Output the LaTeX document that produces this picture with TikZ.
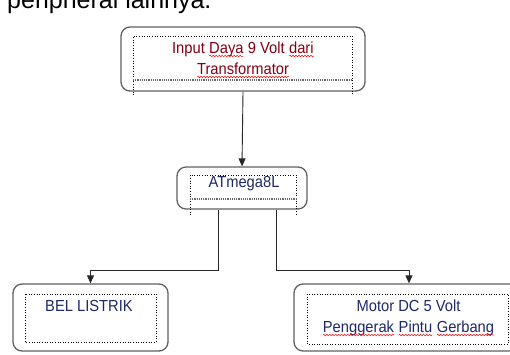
\documentclass[tikz,border=0pt]{standalone}
\usepackage{fontspec}
\setmainfont{Liberation Sans}
\newfontfamily\sempit[FakeStretch=0.92]{Liberation Sans}
\usetikzlibrary{arrows.meta,decorations.pathmorphing}

\definecolor{boxgray}{RGB}{95,95,95}
\definecolor{txtred}{RGB}{128,0,20}
\definecolor{txtblue}{RGB}{30,40,100}

% red wavy spell-check underline under one word
\newcommand{\salah}[1]{\tikz[baseline=(w.base)]{%
  \node[inner sep=0pt, outer sep=0pt] (w) {#1};
  \draw[red, line width=0.5pt, decorate,
        decoration={snake, amplitude=0.8pt, segment length=3pt}]
    ([yshift=-3pt]w.base west) -- ([yshift=-3pt]w.base east);}}

\begin{document}
\begin{tikzpicture}[
  x=1pt, y=-1pt,
  font=\sempit\fontsize{16}{21}\selectfont,
  outbox/.style={draw=boxgray, line width=1.3pt, rounded corners=9pt,
                 inner sep=0pt},
  frame/.style={draw=black, dotted, line width=0.6pt},
  frameline/.style={draw=black!60, densely dotted, line width=1.2pt},
  lbl/.style={align=center, inner sep=0pt, anchor=base},
  arr/.style={-{Triangle[length=8pt,width=7pt]}, line width=0.9pt,
              draw=black!85}
]
\useasboundingbox (0,0) rectangle (510,354);
\clip (0,0) rectangle (510,354);
%--- cut-off line of body text ---------------------------------------------
\node[anchor=base west, inner sep=0pt,
      font=\rmfamily\fontsize{25}{30}\selectfont]
  (kalimat) at (7,8) {peripheral lainnya.};
%--- Row 1: power input ----------------------------------------------------
\node[outbox, minimum width=244pt, minimum height=64pt] (daya) at (243,59) {};
\draw[frame] (133,95) -- (133,36) -- (352,36) -- (352,95);
\draw[frameline] (133,80) -- (352,80);
\node[lbl, text=txtred] (dayatxt) at (243,74) {%
  Input \salah{Daya} 9 Volt \salah{dari}\\\salah{Transformator}};
%--- Row 2: microcontroller ------------------------------------------------
\node[outbox, minimum width=130pt, minimum height=42pt] (mcu) at (242,188) {};
\draw[frame] (190,215) -- (190,175) -- (296,175) -- (296,215);
\draw[frameline] (190,199) -- (296,199);
\node[lbl, text=txtblue] (mcutxt) at (244,187) {ATmega8L};
%--- Row 3: outputs --------------------------------------------------------
\node[outbox, minimum width=155pt, minimum height=67pt] (bel) at (90.5,317.5) {};
\draw[frame] (25,294) rectangle (156,342);
\node[lbl, text=txtblue] (beltxt) at (89,311) {BEL LISTRIK};
\node[outbox, minimum width=230pt, minimum height=67pt] (motor) at (409,317.5) {};
\draw[frame] (307,294) rectangle (508,344);
\node[lbl, text=txtblue] (motortxt) at (408.5,332) {%
  Motor DC 5 Volt\\\salah{Penggerak} \salah{Pintu} \salah{Gerbang}};
%--- Arrows ----------------------------------------------------------------
\draw[arr] (daya.south) -- (mcu.north);
\draw[arr] ([xshift=-24pt]mcu.south) -- ++(0,61) -| (bel.north);
\draw[arr] ([xshift=34pt]mcu.south) -- ++(0,61) -| (motor.north);
\end{tikzpicture}
\end{document}
